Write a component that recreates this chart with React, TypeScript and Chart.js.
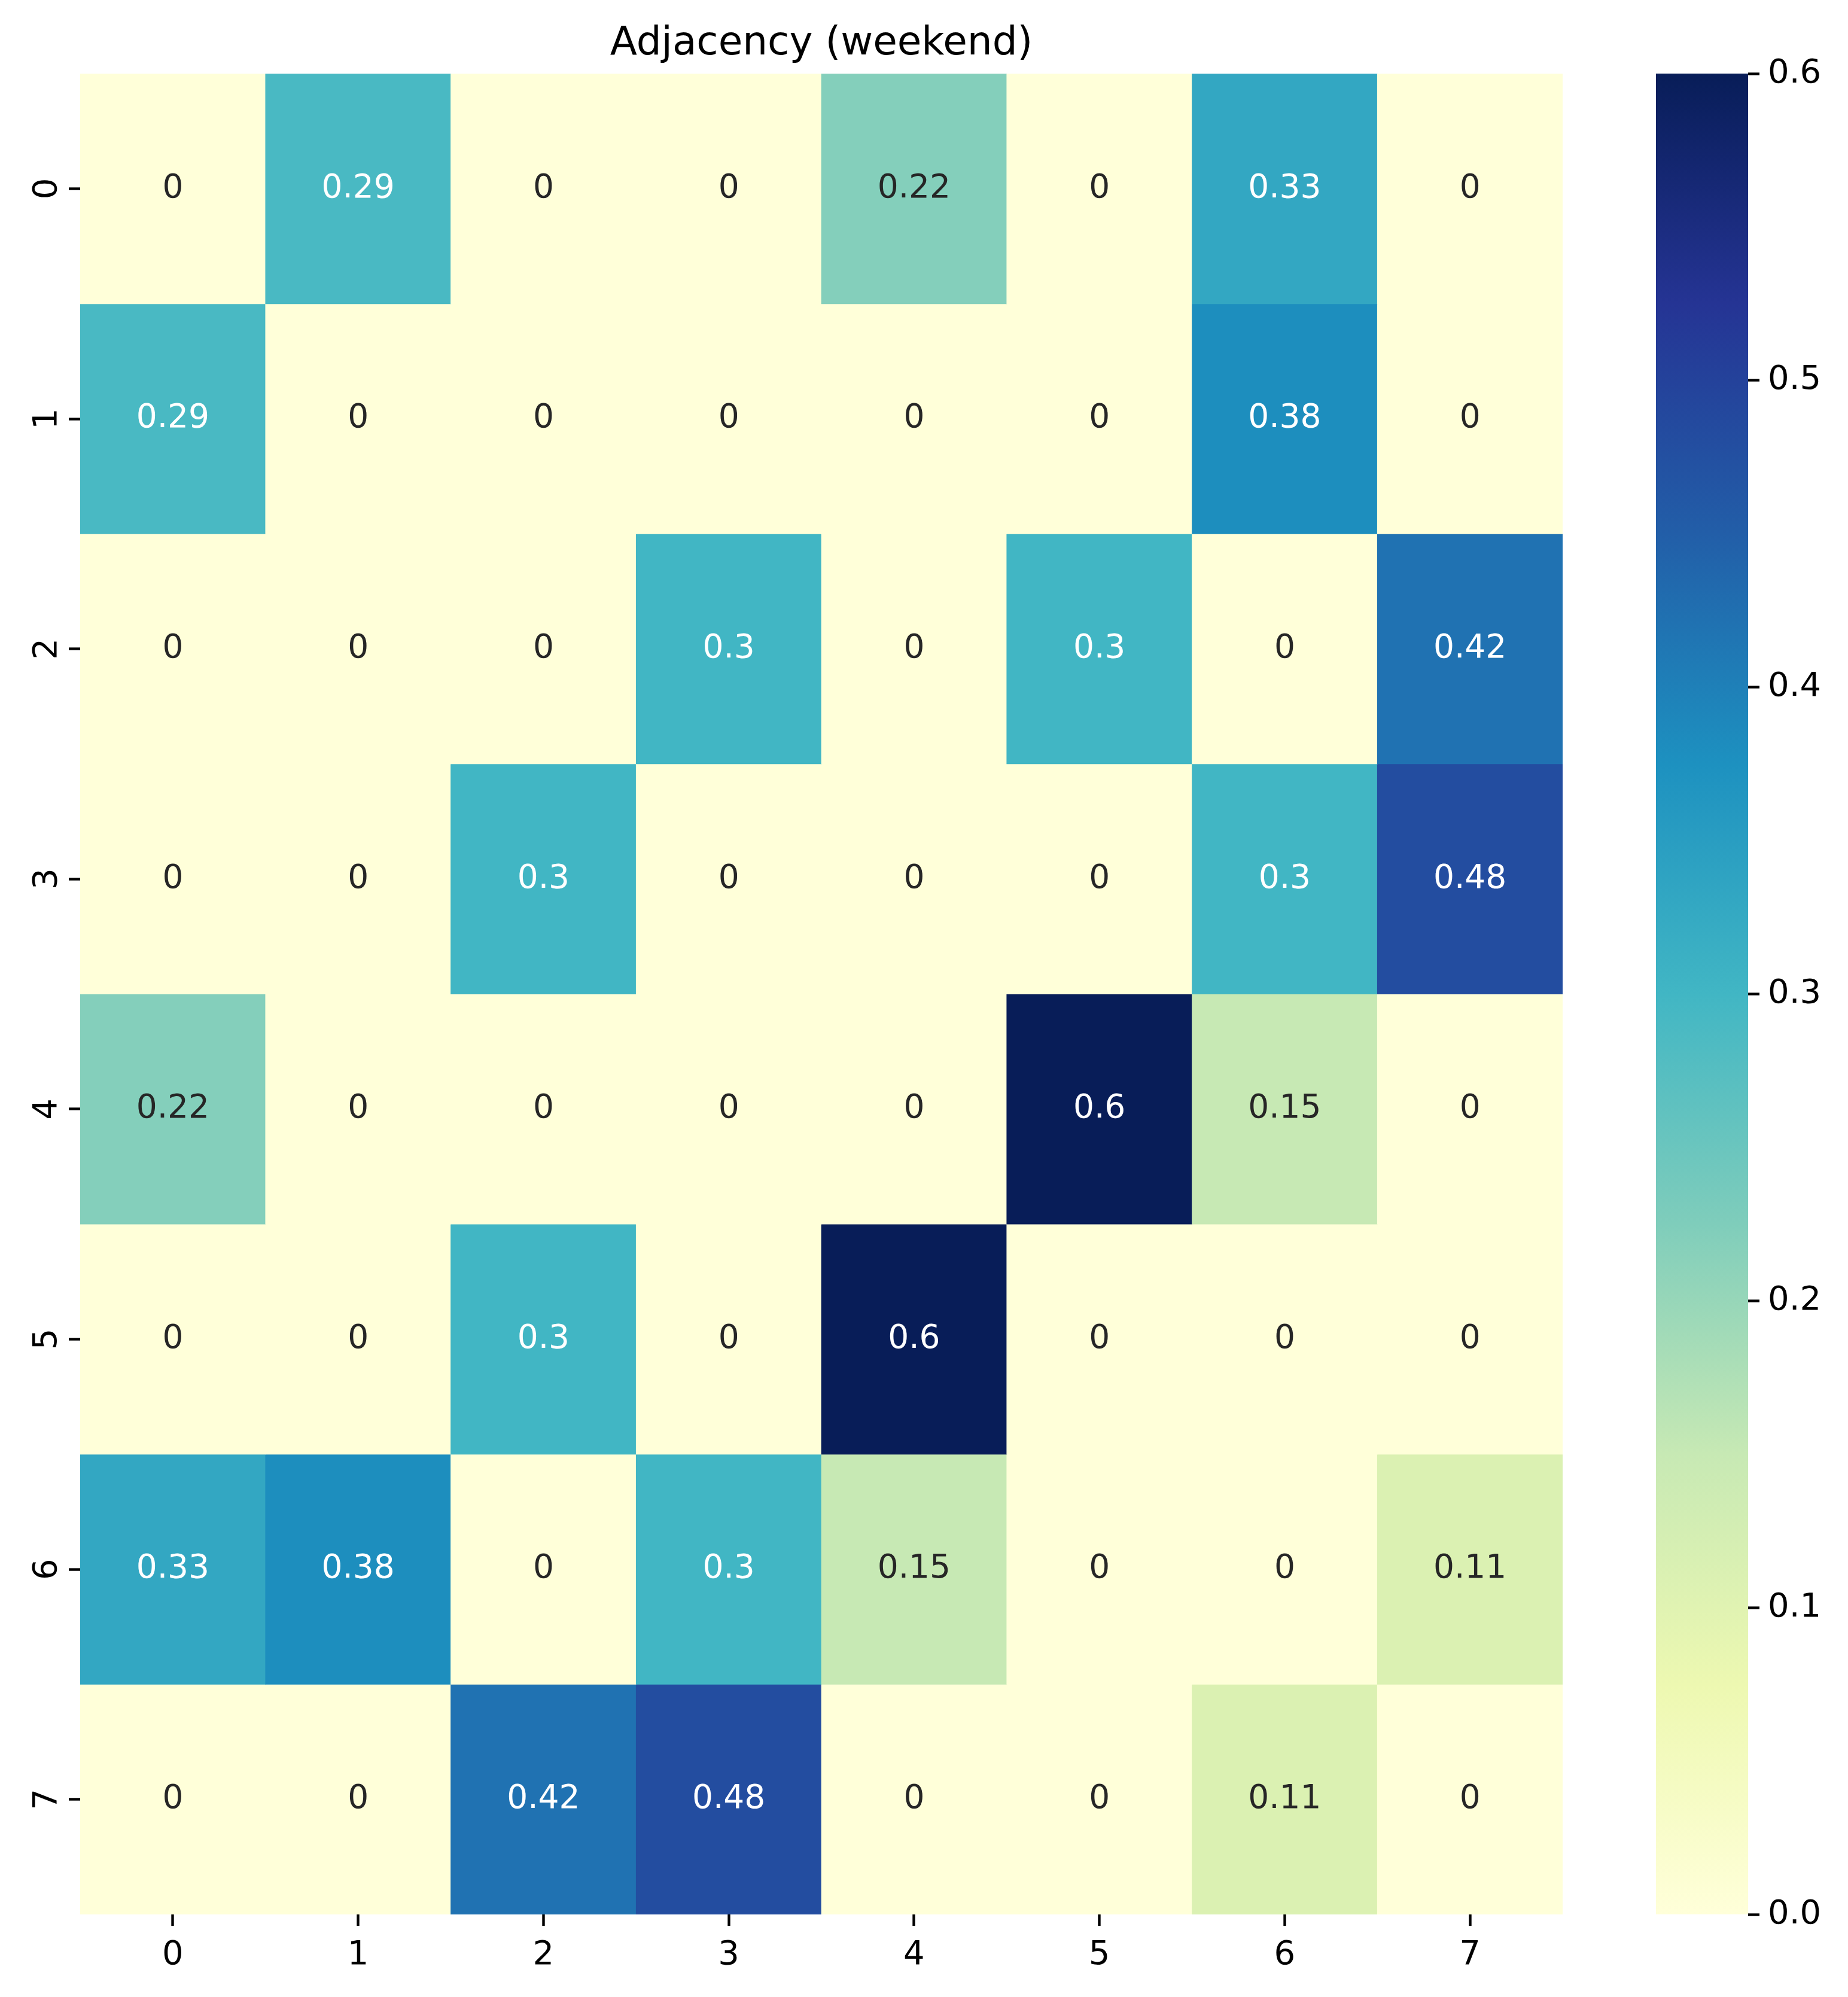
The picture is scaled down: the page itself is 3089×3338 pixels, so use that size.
import React, { useEffect, useRef } from "react";
import { Chart, registerables } from "chart.js";

Chart.register(...registerables);

const TITLE = "Adjacency (weekend)";
const xLabels = ["0", "1", "2", "3", "4", "5", "6", "7"];
const yLabels = ["0", "1", "2", "3", "4", "5", "6", "7"];

const row0 = [0, 0.29, 0, 0, 0.22, 0, 0.33, 0];
const row1 = [0.29, 0, 0, 0, 0, 0, 0.38, 0];
const row2 = [0, 0, 0, 0.3, 0, 0.3, 0, 0.42];
const row3 = [0, 0, 0.3, 0, 0, 0, 0.3, 0.48];
const row4 = [0.22, 0, 0, 0, 0, 0.6, 0.15, 0];
const row5 = [0, 0, 0.3, 0, 0.6, 0, 0, 0];
const row6 = [0.33, 0.38, 0, 0.3, 0.15, 0, 0, 0.11];
const row7 = [0, 0, 0.42, 0.48, 0, 0, 0.11, 0];
const matrix = [row0, row1, row2, row3, row4, row5, row6, row7];

const VMIN = 0;
const VMAX = 0.6;
const colorbarTicks = [0, 0.1, 0.2, 0.3, 0.4, 0.5, 0.6];

// matplotlib YlGnBu anchor colours
const ylgnbu = [
  "#ffffd9", "#edf8b1", "#c7e9b4", "#7fcdbb", "#41b6c4",
  "#1d91c0", "#225ea8", "#253494", "#081d58",
];

const FONT = "DejaVu Sans";

function hexToRgb(h: string): number[] {
  const n = parseInt(h.slice(1), 16);
  return [(n >> 16) & 255, (n >> 8) & 255, n & 255];
}

function cmapRgb(v: number): number[] {
  let t = (v - VMIN) / (VMAX - VMIN);
  t = Math.max(0, Math.min(1, t));
  const seg = ylgnbu.length - 1;
  const p = t * seg;
  const i = Math.min(seg - 1, Math.floor(p));
  const f = p - i;
  const a = hexToRgb(ylgnbu[i]);
  const b = hexToRgb(ylgnbu[i + 1]);
  return [0, 1, 2].map((k) => Math.round(a[k] + (b[k] - a[k]) * f));
}

function cmap(v: number): string {
  const [r, g, b] = cmapRgb(v);
  return `rgb(${r},${g},${b})`;
}

function textColorFor(v: number): string {
  const rgb = cmapRgb(v).map((c) => {
    const x = c / 255;
    return x <= 0.03928 ? x / 12.92 : Math.pow((x + 0.055) / 1.055, 2.4);
  });
  const lum = rgb[0] * 0.2126 + rgb[1] * 0.7152 + rgb[2] * 0.0722;
  return lum > 0.408 ? "#262626" : "#ffffff";
}

function fmt2g(v: number): string {
  return String(Number(v.toPrecision(2)));
}

const annotatePlugin = {
  id: "annotateCells",
  afterDatasetsDraw(chart: any) {
    const ctx = chart.ctx;
    ctx.save();
    ctx.font = `55px "${FONT}"`;
    ctx.textAlign = "center";
    ctx.textBaseline = "middle";
    chart.data.datasets.forEach((ds: any, r: number) => {
      const meta = chart.getDatasetMeta(r);
      meta.data.forEach((bar: any, c: number) => {
        const v = matrix[r][c];
        const cx = bar.x;
        const cy = (bar.y + bar.base) / 2;
        ctx.fillStyle = textColorFor(v);
        ctx.fillText(fmt2g(v), cx, cy);
      });
    });
    ctx.restore();
  },
};

const MAIN_W = 2700;
const H = 3338;
const CB_LEFT = 2768;
const CB_W = 3089 - 2768;

export default function App() {
  const mainRef = useRef<HTMLCanvasElement>(null);
  const cbRef = useRef<HTMLCanvasElement>(null);

  useEffect(() => {
    const datasets = matrix.map((row, r) => ({
      label: `row ${yLabels[r]}`,
      data: row.map(() => [r - 0.5, r + 0.5]),
      backgroundColor: row.map((v) => cmap(v)),
      borderWidth: 0,
      borderSkipped: false,
      grouped: false,
      barPercentage: 1,
      categoryPercentage: 1,
    }));

    const main = new Chart(mainRef.current as HTMLCanvasElement, {
      type: "bar",
      data: { labels: xLabels, datasets: datasets as any },
      plugins: [annotatePlugin],
      options: {
        animation: false,
        responsive: false,
        devicePixelRatio: 1,
        layout: { padding: { top: 0, right: MAIN_W - 2612, bottom: 0, left: 0 } },
        plugins: {
          legend: { display: false },
          tooltip: { enabled: false },
          title: {
            display: true,
            fullSize: false,
            text: TITLE,
            color: "#000",
            font: { family: FONT, size: 66, weight: "normal" },
            padding: { top: 34, bottom: 10 },
          },
        },
        scales: {
          x: {
            type: "category",
            offset: true,
            afterFit: (s: any) => { s.height = H - 3200; },
            grid: {
              display: true,
              drawOnChartArea: false,
              offset: false,
              tickLength: 19,
              tickWidth: 4.4,
              tickColor: "#000",
            },
            border: { display: false },
            ticks: {
              color: "#000",
              font: { family: FONT, size: 56 },
              padding: 16,
              maxRotation: 0,
              minRotation: 0,
            },
          },
          y: {
            type: "linear",
            reverse: true,
            min: -0.5,
            max: yLabels.length - 0.5,
            afterBuildTicks: (s: any) => {
              s.ticks = yLabels.map((_, i) => ({ value: i }));
            },
            afterFit: (s: any) => { s.width = 134; },
            grid: {
              display: true,
              drawOnChartArea: false,
              tickLength: 19,
              tickWidth: 4.4,
              tickColor: "#000",
            },
            border: { display: false },
            ticks: {
              color: "#000",
              font: { family: FONT, size: 56 },
              padding: 18,
              minRotation: 90,
              maxRotation: 90,
              crossAlign: "center",
              callback: (_v: any, i: number) => yLabels[i],
            },
          },
        },
      } as any,
    });

    const cb = new Chart(cbRef.current as HTMLCanvasElement, {
      type: "bar",
      data: {
        labels: [""],
        datasets: [
          {
            label: "colorbar",
            data: [[VMIN, VMAX]] as any,
            borderWidth: 0,
            borderSkipped: false,
            barPercentage: 1,
            categoryPercentage: 1,
            backgroundColor: (c: any) => {
              const chart = c.chart;
              const ys = chart.scales?.y;
              if (!chart.chartArea || !ys) return ylgnbu[0];
              const g = chart.ctx.createLinearGradient(
                0, ys.getPixelForValue(VMIN), 0, ys.getPixelForValue(VMAX)
              );
              ylgnbu.forEach((col, i) => g.addColorStop(i / (ylgnbu.length - 1), col));
              return g;
            },
          },
        ],
      },
      options: {
        animation: false,
        responsive: false,
        devicePixelRatio: 1,
        layout: { padding: { top: 123, bottom: H - 3200, left: 0, right: 0 } },
        plugins: { legend: { display: false }, tooltip: { enabled: false }, title: { display: false } },
        scales: {
          x: { display: false, offset: true },
          y: {
            type: "linear",
            position: "right",
            min: VMIN,
            max: VMAX,
            afterBuildTicks: (s: any) => {
              s.ticks = colorbarTicks.map((v) => ({ value: v }));
            },
            afterFit: (s: any) => { s.width = CB_W - (2922 - 2768); },
            grid: {
              display: true,
              drawOnChartArea: false,
              tickLength: 19,
              tickWidth: 4.4,
              tickColor: "#000",
            },
            border: { display: false },
            ticks: {
              color: "#000",
              font: { family: FONT, size: 56 },
              padding: 14,
              callback: (v: any) => Number(v).toFixed(1),
            },
          },
        },
      } as any,
    });

    return () => {
      main.destroy();
      cb.destroy();
    };
  }, []);

  return (
    <div style={{ position: "absolute", left: 0, top: 0, width: 3089, height: H, background: "#fff" }}>
      <canvas
        ref={mainRef}
        width={MAIN_W}
        height={H}
        style={{ position: "absolute", left: 0, top: 0, width: MAIN_W, height: H }}
      />
      <canvas
        ref={cbRef}
        width={CB_W}
        height={H}
        style={{ position: "absolute", left: CB_LEFT, top: 0, width: CB_W, height: H }}
      />
    </div>
  );
}
